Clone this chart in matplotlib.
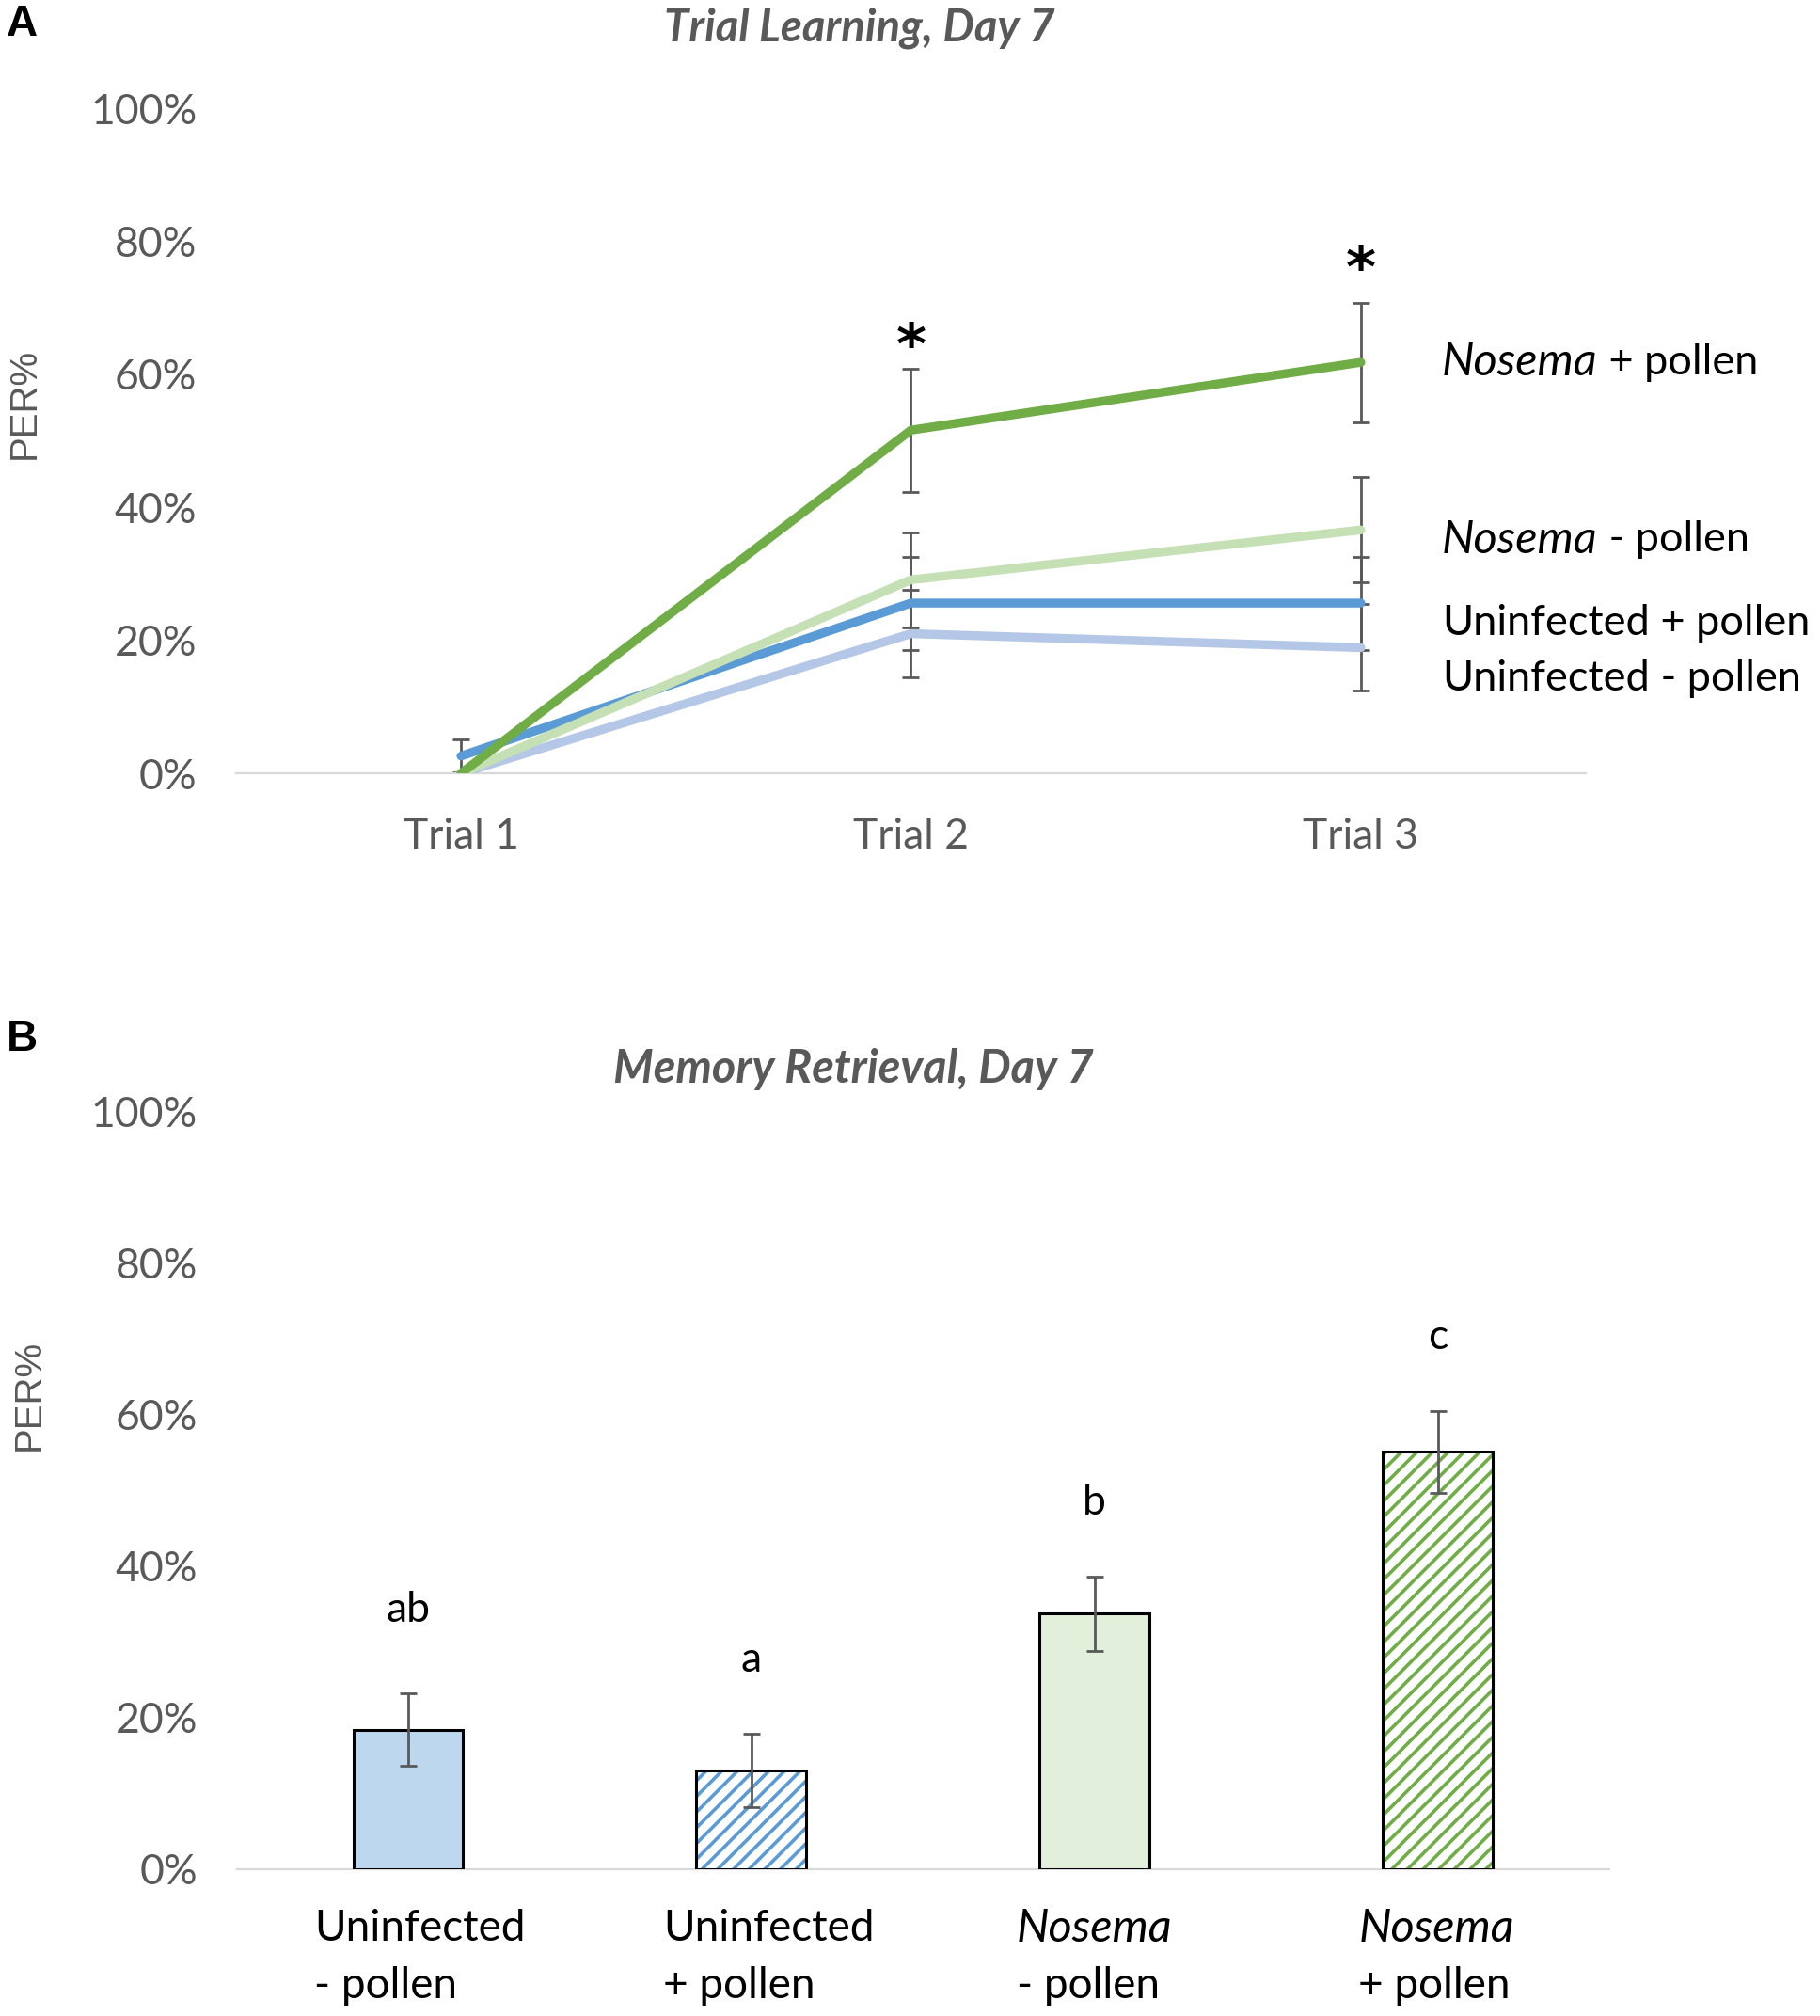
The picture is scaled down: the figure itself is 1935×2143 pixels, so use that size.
import matplotlib
matplotlib.use("Agg")
import matplotlib.pyplot as plt
import matplotlib.transforms as mtransforms
from matplotlib.ticker import FuncFormatter
import numpy as np

# ---------------- data ----------------
trials = ["Trial 1", "Trial 2", "Trial 3"]
nosema_pollen = [0.0, 51.6, 61.8]
nosema_pollen_err = [0.0, 9.3, 9.0]
nosema_nopollen = [0.0, 29.1, 36.6]
nosema_nopollen_err = [0.0, 7.1, 7.9]
uninf_pollen = [2.6, 25.6, 25.6]
uninf_pollen_err = [2.5, 7.0, 7.0]
uninf_nopollen = [0.0, 21.0, 18.9]
uninf_nopollen_err = [0.0, 6.6, 6.5]
line_labels_main = ["Nosema", "Nosema", "Uninfected", "Uninfected"]
line_labels_rest = [" + pollen", " - pollen", " + pollen", " - pollen"]
line_label_y = [61.8, 35.1, 22.6, 14.2]
star_trials = [1, 2]
star_y = [63.9, 75.4]

bar_groups = ["Uninfected", "Uninfected", "Nosema", "Nosema"]
bar_subs = ["- pollen", "+ pollen", "- pollen", "+ pollen"]
bar_values = [18.4, 13.0, 33.7, 55.1]
bar_err = [4.8, 4.8, 4.9, 5.4]
bar_letters = ["ab", "a", "b", "c"]
bar_letter_y = [32.6, 26.0, 46.8, 68.7]
yticks = [0, 20, 40, 60, 80, 100]

# ---------------- style ----------------
FONT = "Lato"
GRAY = "#595959"
DKGREEN = "#70AD47"
LTGREEN = "#C5E0B4"
BLUE = "#5B9BD5"
LTBLUE = "#B4C7E7"
LABEL_SHIFT = [0.033, 0.051, 0.0, -0.004]   # small horizontal nudges of category labels
plt.rcParams["font.family"] = [FONT, "DejaVu Sans"]
plt.rcParams["hatch.linewidth"] = 2.6

fig = plt.figure(figsize=(19.35, 21.43), dpi=100)
axA = fig.add_axes([0.1297, 0.6164, 0.8713 - 0.1297, 0.3299])
axB = fig.add_axes([0.130, 0.0729, 0.8842 - 0.130, 0.4486 - 0.0729])

pct = FuncFormatter(lambda v, p: f"{v:.0f}%")
for ax in (axA, axB):
    ax.set_ylim(0, 100)
    ax.set_yticks(yticks)
    ax.yaxis.set_major_formatter(pct)
    for s in ("top", "right", "left"):
        ax.spines[s].set_visible(False)
    ax.spines["bottom"].set_color("#D9D9D9")
    ax.spines["bottom"].set_linewidth(1.6)
    ax.tick_params(axis="both", length=0, labelsize=32, colors=GRAY)
    ax.tick_params(axis="y", pad=30)

# ---------------- panel A ----------------
x = np.arange(len(trials))
axA.set_xlim(-0.5, 2.5)
axA.set_xticks(x)
axA.set_xticklabels(trials)
axA.tick_params(axis="x", pad=34)

series = [
    (uninf_nopollen, uninf_nopollen_err, LTBLUE),
    (uninf_pollen, uninf_pollen_err, BLUE),
    (nosema_nopollen, nosema_nopollen_err, LTGREEN),
    (nosema_pollen, nosema_pollen_err, DKGREEN),
]
for vals, errs, col in series:
    v = np.array(vals)
    e = np.array(errs)
    m = e > 0
    axA.errorbar(x[m], v[m], yerr=e[m], fmt="none", ecolor=GRAY,
                 elinewidth=2.0, capsize=6.5, capthick=2.0, zorder=2)
for i, (vals, errs, col) in enumerate(series):
    axA.plot(x, vals, color=col, lw=6.8, solid_capstyle="round",
             solid_joinstyle="round", zorder=3 + i)

for t, yv in zip(star_trials, star_y):
    axA.text(t, yv, "*", ha="center", va="center", fontsize=44,
             fontweight="bold", color="black", family="DejaVu Sans")

for main, rest, yv in zip(line_labels_main, line_labels_rest, line_label_y):
    ital = main == "Nosema"
    t1 = axA.text(2.18, yv, main, ha="left", va="center",
                  fontsize=35 if ital else 32.5,
                  color="black", clip_on=False,
                  style="italic" if ital else "normal")
    axA.annotate(rest, xy=(1, 0.5), xycoords=t1, ha="left", va="center",
                 fontsize=32.5, color="black", annotation_clip=False)

axA.set_ylabel("PER%", fontsize=29, color=GRAY, family="Liberation Sans")
axA.yaxis.set_label_coords(-0.144, 0.556)

# ---------------- panel B ----------------
xb = np.arange(len(bar_values))
axB.set_xlim(-0.5, 3.5)
axB.set_xticks(xb)
axB.set_xticklabels([])
w = 0.32
axB.bar(xb[[0]], [bar_values[0]], width=w, color="#BDD7EE", edgecolor="black",
        linewidth=2.2, zorder=3)
axB.bar(xb[[2]], [bar_values[2]], width=w, color="#E2EFDA", edgecolor="black",
        linewidth=2.2, zorder=3)
for i, hc in ((1, BLUE), (3, DKGREEN)):
    axB.bar([xb[i]], [bar_values[i]], width=w, color="white", edgecolor=hc,
            hatch="//", linewidth=0, zorder=3)
    axB.bar([xb[i]], [bar_values[i]], width=w, fill=False, edgecolor="black",
            linewidth=2.2, zorder=4)
axB.errorbar(xb, bar_values, yerr=bar_err, fmt="none", ecolor=GRAY,
             elinewidth=2.0, capsize=6.5, capthick=2.0, zorder=5)
for xi, lab, yv in zip(xb, bar_letters, bar_letter_y):
    axB.text(xi, yv, lab, ha="center", va="baseline", fontsize=32, color="black")

trans = mtransforms.blended_transform_factory(axB.transData, axB.transAxes)
for xi, g, s, dx in zip(xb, bar_groups, bar_subs, LABEL_SHIFT):
    ital = g == "Nosema"
    t1 = axB.text(xi + dx, -0.079, g, transform=trans, ha="center", va="center",
                  fontsize=35 if ital else 33, color="black", clip_on=False,
                  style="italic" if ital else "normal")
    axB.annotate(s, xy=(0, 0.5), xycoords=t1, xytext=(0, -44),
                 textcoords="offset points", ha="left", va="center",
                 fontsize=33, color="black", annotation_clip=False)

axB.set_ylabel("PER%", fontsize=29, color=GRAY, family="Liberation Sans")
axB.yaxis.set_label_coords(-0.1385, 0.626)

# ---------------- titles & panel letters ----------------
fig.text(914 / 1935, 1 - 30 / 2143, "Trial Learning, Day 7", ha="center",
         va="center", fontsize=34, fontweight="bold", style="italic", color=GRAY)
fig.text(907 / 1935, 1 - 1136.5 / 2143, "Memory Retrieval, Day 7", ha="center",
         va="center", fontsize=35, fontweight="bold", style="italic", color=GRAY)
fig.text(7 / 1935, 1 - 38.5 / 2143, "A", ha="left", va="baseline", fontsize=33,
         fontweight="bold", color="black", family="Liberation Sans")
fig.text(7 / 1935, 1 - 1117.3 / 2143, "B", ha="left", va="baseline", fontsize=33,
         fontweight="bold", color="black", family="Liberation Sans")

fig.savefig("out.png", dpi=100)
